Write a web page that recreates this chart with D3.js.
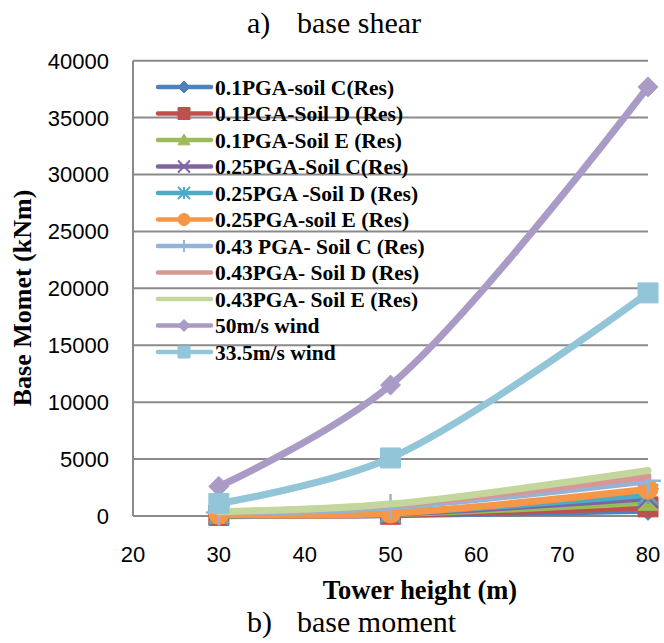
<!DOCTYPE html>
<html><head><meta charset="utf-8">
<script src="https://cdn.jsdelivr.net/npm/d3@7"></script>
<style>body{margin:0;background:#fff}</style>
</head><body>
<svg id="c" width="664" height="643"></svg>
<script>
const heights = [30, 50, 80];
const seriesNames = [
  "0.1PGA-soil C(Res)", "0.1PGA-Soil D (Res)", "0.1PGA-Soil E (Res)",
  "0.25PGA-Soil C(Res)", "0.25PGA -Soil D (Res)", "0.25PGA-soil E (Res)",
  "0.43 PGA- Soil C (Res)", "0.43PGA- Soil D (Res)", "0.43PGA- Soil E (Res)",
  "50m/s wind", "33.5m/s wind"
];
const v01C = [30, 100, 500];
const v01D = [50, 150, 800];
const v01E = [70, 200, 1200];
const v025C = [100, 250, 1600];
const v025D = [120, 300, 1900];
const v025E = [150, 250, 2350];
const v043C = [300, 800, 3100];
const v043D = [330, 1000, 3500];
const v043E = [380, 1050, 4000];
const vW50 = [2600, 11500, 37700];
const vW335 = [1100, 5100, 19600];
const seriesValues = [v01C, v01D, v01E, v025C, v025D, v025E, v043C, v043D, v043E, vW50, vW335];
const colors = ["#4F81BD", "#C0504D", "#9BBB59", "#8064A2", "#4BACC6", "#F79646",
                "#95B3D7", "#D99694", "#C3D69B", "#A99BC6", "#92C5D8"];
const markers = ["diamond", "square", "triangle", "x", "star", "circle", "plus", "none", "none", "diamond", "square"];
const yTicks = [0, 5000, 10000, 15000, 20000, 25000, 30000, 35000, 40000];
const xTicks = [20, 30, 40, 50, 60, 70, 80];

const svg = d3.select("#c");
const x = d3.scaleLinear().domain([20, 80]).range([133, 648]);
const y = d3.scaleLinear().domain([0, 40000]).range([516, 60.7]);

// gridlines
svg.append("g").selectAll("line").data(yTicks).join("line")
  .attr("x1", 133).attr("x2", 648)
  .attr("y1", d => y(d)).attr("y2", d => y(d))
  .attr("stroke", "#8A8A8A").attr("stroke-width", 2);
svg.append("line").attr("x1", 133).attr("x2", 133).attr("y1", y(40000)).attr("y2", y(0))
  .attr("stroke", "#8A8A8A").attr("stroke-width", 2);

// tick labels
svg.append("g").selectAll("text").data(yTicks).join("text")
  .attr("x", 109).attr("y", d => y(d)).attr("dy", "0.36em")
  .attr("text-anchor", "end").attr("font-family", "Liberation Sans, Arial, sans-serif")
  .attr("font-size", 22).attr("fill", "#000").text(d => d);
svg.append("g").selectAll("text").data(xTicks).join("text")
  .attr("x", d => x(d)).attr("y", 562)
  .attr("text-anchor", "middle").attr("font-family", "Liberation Sans, Arial, sans-serif")
  .attr("font-size", 22).attr("fill", "#000").text(d => d);

function markerPath(type, s) {
  const h = s / 2;
  switch (type) {
    case "diamond": return `M0,${-h}L${h},0L0,${h}L${-h},0Z`;
    case "square": return `M${-h},${-h}H${h}V${h}H${-h}Z`;
    case "triangle": return `M0,${-h}L${h},${h * 0.8}L${-h},${h * 0.8}Z`;
    case "circle": return d3.symbol(d3.symbolCircle, Math.PI * h * h)();
    case "x": return `M${-h},${-h}L${h},${h}M${-h},${h}L${h},${-h}`;
    case "star": return `M${-h},${-h}L${h},${h}M${-h},${h}L${h},${-h}M0,${-h}V${h}`;
    case "plus": return `M${-h},0H${h}M0,${-h}V${h}`;
    default: return "";
  }
}
const strokeOnly = t => t === "x" || t === "star" || t === "plus";

const line = d3.line().x(d => x(d[0])).y(d => y(d[1])).curve(d3.curveCatmullRom.alpha(0.5));

seriesValues.forEach((vals, i) => {
  const pts = heights.map((h, j) => [h, vals[j]]);
  const g = svg.append("g");
  g.append("path").datum(pts).attr("d", line)
    .attr("fill", "none").attr("stroke", colors[i]).attr("stroke-width", 7)
    .attr("stroke-linejoin", "round").attr("stroke-linecap", "round");
  if (markers[i] !== "none") {
    g.selectAll("path.m").data(pts).join("path").attr("class", "m")
      .attr("transform", d => `translate(${x(d[0])},${y(d[1])})`)
      .attr("d", markerPath(markers[i], markers[i] === "plus" ? 26 : 20))
      .attr("fill", strokeOnly(markers[i]) ? "none" : colors[i])
      .attr("stroke", colors[i]).attr("stroke-width", strokeOnly(markers[i]) ? 2.5 : 1);
  }
});

// legend
const lg = svg.append("g");
seriesNames.forEach((name, i) => {
  const cy = 87 + i * 26.5;
  lg.append("line").attr("x1", 158).attr("x2", 211).attr("y1", cy).attr("y2", cy)
    .attr("stroke", colors[i]).attr("stroke-width", 4.5).attr("stroke-linecap", "round");
  if (markers[i] !== "none") {
    lg.append("path").attr("transform", `translate(184,${cy})`)
      .attr("d", markerPath(markers[i], 12))
      .attr("fill", strokeOnly(markers[i]) ? "none" : colors[i])
      .attr("stroke", colors[i]).attr("stroke-width", strokeOnly(markers[i]) ? 2 : 1);
  }
  lg.append("text").attr("x", 215).attr("y", cy).attr("dy", "0.35em")
    .attr("font-family", "Liberation Serif, Times New Roman, serif").attr("font-weight", "bold")
    .attr("font-size", 21.5).attr("fill", "#000").text(name);
});

// titles
const serif = "Liberation Serif, Times New Roman, serif";
const ta = svg.append("text").attr("x", 247).attr("y", 33).attr("font-family", serif).attr("font-size", 30).attr("fill", "#000");
ta.append("tspan").text("a)");
ta.append("tspan").attr("x", 297).text("base shear");
const tb = svg.append("text").attr("x", 247).attr("y", 632).attr("font-family", serif).attr("font-size", 30).attr("fill", "#000");
tb.append("tspan").text("b)");
tb.append("tspan").attr("x", 297).text("base moment");

svg.append("text").attr("x", 420).attr("y", 599).attr("text-anchor", "middle")
  .attr("font-family", serif).attr("font-weight", "bold").attr("font-size", 26.5).attr("fill", "#000")
  .text("Tower height (m)");
svg.append("text").attr("transform", "translate(31,298) rotate(-90)").attr("text-anchor", "middle")
  .attr("font-family", serif).attr("font-weight", "bold").attr("font-size", 26).attr("fill", "#000")
  .text("Base Momet (kNm)");
</script>
</body></html>
